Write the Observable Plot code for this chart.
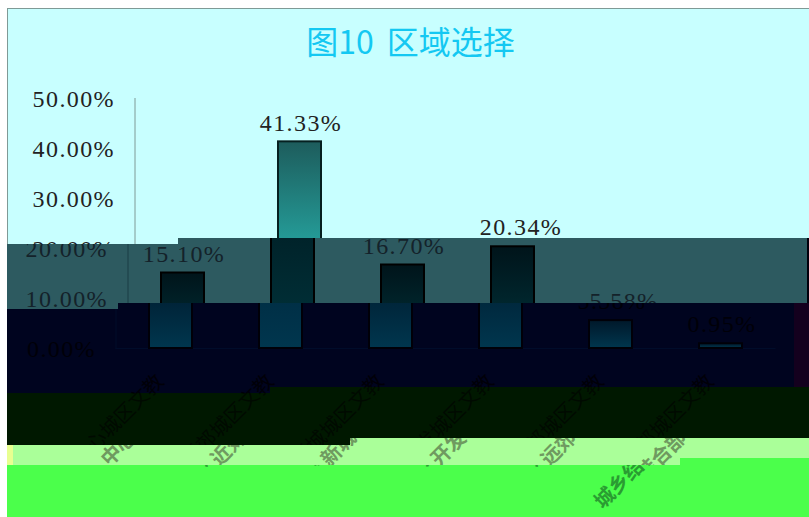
<!DOCTYPE html>
<html lang="zh">
<head>
<meta charset="utf-8">
<script src="https://cdn.jsdelivr.net/npm/d3@7"></script>
<script src="https://cdn.jsdelivr.net/npm/@observablehq/plot@0.6"></script>
<style>
html,body{margin:0;padding:0;background:#fff;overflow:hidden}
#root{position:relative;width:809px;height:517px;overflow:hidden}
.band{position:absolute;left:0;top:0;width:809px;height:517px}
.band svg{position:absolute;top:0;display:block}
.band svg g[font-family*="Liberation Serif"]{letter-spacing:1.4px}
#frame{position:absolute;left:7px;top:8px;width:802px;height:240px;border-left:1px solid #7f9a96;border-top:1px solid #7f9a96;box-sizing:border-box}
#title{position:absolute;left:0;width:809px;top:18px;padding-left:12px;box-sizing:border-box;text-align:center;font:32px/44px "Noto Sans CJK SC","Noto Sans",sans-serif;color:#14c8f2;word-spacing:6px}
</style>
</head>
<body>
<div id="root"></div>
<script>
const titleText = "图10 区域选择";
const categories = ["中心城区文教","近郊城区文教","新城城区文教","开发城区文教","远郊城区文教","城乡结合部城区文教"];
const shares = [15.10, 41.33, 16.70, 20.34, 5.58, 0.95];
const yTicks = [0, 10, 20, 30, 40, 50];
const pct = d => d.toFixed(2) + "%";

const bands = [
  {clip:"7px 8px,809px 8px,809px 238px,178px 238px,178px 244px,7px 244px", bg:"#c8ffff", shift:0,
   text:"#222", axis:"#7f9a96", barTop:"#1d5c5c", barBottom:"#2ce0d8", stroke:"#062020", label:"#222", weight:400},
  {clip:"7px 244px,178px 244px,178px 238px,809px 238px,809px 303px,118px 303px,118px 309px,7px 309px", bg:"linear-gradient(90deg,#2d5a60 807px,#02000c 807px)", shift:-7,
   text:"#14222a", axis:"#1a3c44", barTop:"#00141a", barBottom:"#00343c", stroke:"#000", label:"#14222a", weight:400},
  {clip:"7px 309px,118px 309px,118px 303px,809px 303px,809px 387px,270px 387px,270px 393px,7px 393px", bg:"linear-gradient(90deg,#00041f 794px,#14001e 794px)", shift:-19,
   text:"#000008", axis:"#000c2a", barTop:"#00182a", barBottom:"#00364e", stroke:"#000008", label:"#000008", weight:400},
  {clip:"7px 393px,270px 393px,270px 387px,809px 387px,809px 438px,350px 438px,350px 445px,7px 445px", bg:"#001800", shift:-19,
   text:"#001000", axis:"#001800", barTop:"#001800", barBottom:"#001800", stroke:"#001800", label:"#000a00", weight:400},
  {clip:"7px 445px,350px 445px,350px 438px,809px 438px,809px 458px,680px 458px,680px 465px,7px 465px", bg:"linear-gradient(90deg,#e8ff90 13px,#aaff99 13px)", shift:10,
   text:"#6f9a60", axis:"#aaff99", barTop:"#aaff99", barBottom:"#aaff99", stroke:"#aaff99", label:"#6f9a60", weight:700},
  {clip:"7px 465px,680px 465px,680px 458px,809px 458px,809px 517px,7px 517px", bg:"#4bff4b", shift:-4,
   text:"#2a9c32", axis:"#4bff4b", barTop:"#4bff4b", barBottom:"#4bff4b", stroke:"#4bff4b", label:"#2a9c32", weight:700}
];

const root = document.getElementById("root");
const SERIF = '"Liberation Serif","DejaVu Serif",serif';
const CJK = '"Noto Sans CJK SC","Noto Sans",sans-serif';

function chart(b, i) {
  const gid = "barfill" + i;
  const rows = categories.map((c, k) => ({c, v: shares[k]}));
  return Plot.plot({
    width: 809, height: 517,
    marginLeft: 134.5, marginRight: 14.5, marginTop: 98, marginBottom: 169,
    style: {background: "transparent", overflow: "visible"},
    x: {domain: categories, paddingInner: 0.61, paddingOuter: 0.305, axis: null},
    y: {domain: [0, 50], axis: null},
    marks: [
      () => {
        const defs = d3.create("svg:defs");
        const g = defs.append("linearGradient").attr("id", gid)
          .attr("x1", 0).attr("x2", 0).attr("y1", 0).attr("y2", 1);
        g.append("stop").attr("offset", "0").attr("stop-color", b.barTop);
        g.append("stop").attr("offset", "1").attr("stop-color", b.barBottom);
        return defs.node();
      },
      Plot.frame({anchor: "left", stroke: b.axis}),
      Plot.ruleY([0], {stroke: b.axis}),
      Plot.barY(rows, {x: "c", y: "v", fill: `url(#${gid})`, stroke: b.stroke, strokeWidth: 2}),
      Plot.axisY({ticks: yTicks, tickSize: 0, tickPadding: 20, tickFormat: pct, label: null,
        fontSize: 24, fontFamily: SERIF, fill: b.text, dy: 1}),
      Plot.text(rows, {x: "c", y: "v", text: d => pct(d.v), dx: 1, dy: -19, fontSize: 24,
        fontFamily: SERIF, fill: b.text}),
      Plot.text(rows, {x: "c", text: "c", frameAnchor: "bottom", rotate: -45, textAnchor: "end",
        dx: -6, dy: 34, fontSize: 20, fontWeight: b.weight, fontFamily: CJK, fill: b.label})
    ]
  });
}

bands.forEach((b, i) => {
  const d = document.createElement("div");
  d.className = "band";
  d.style.clipPath = `polygon(${b.clip})`;
  d.style.background = b.bg;
  const svg = chart(b, i);
  svg.style.left = b.shift + "px";
  d.appendChild(svg);
  if (i === 0) {
    const f = document.createElement("div"); f.id = "frame"; d.appendChild(f);
    const t = document.createElement("div"); t.id = "title"; t.textContent = titleText; d.appendChild(t);
  }
  root.appendChild(d);
});
</script>
</body>
</html>
